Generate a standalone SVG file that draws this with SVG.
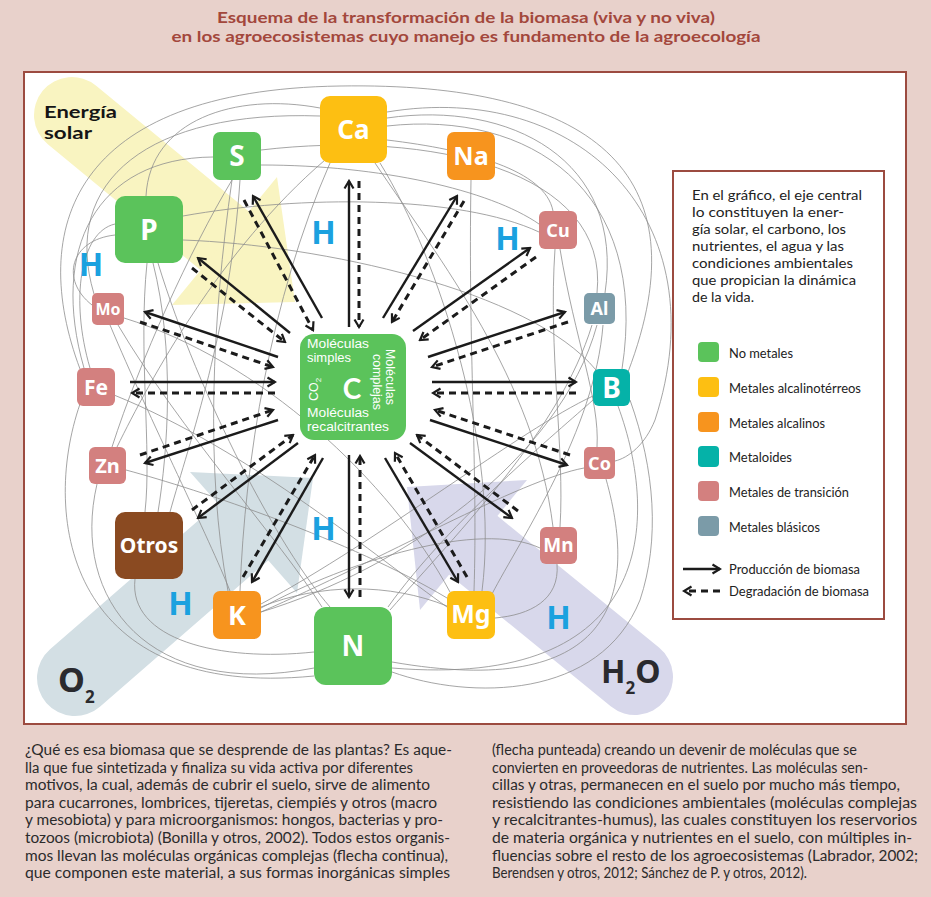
<svg xmlns="http://www.w3.org/2000/svg" width="931" height="897" viewBox="0 0 931 897">
<defs>
<style>
.t{font-family:Lato,"Noto Sans","DejaVu Sans",sans-serif}
.nl{font-family:"Noto Sans","DejaVu Sans",sans-serif;font-weight:700;fill:#fff;text-anchor:middle}
.cw{font-family:"Liberation Sans",Arial,sans-serif;fill:#fff;font-size:12.5px}
.w{fill:none;stroke:#8e8e8e;stroke-width:0.8}
.s{fill:none;stroke:#1b1b1b;stroke-width:2.4;marker-end:url(#ah)}
.d{fill:none;stroke:#1b1b1b;stroke-width:3;stroke-dasharray:7 5;marker-end:url(#ah)}
.h{font-family:"Noto Sans","DejaVu Sans",sans-serif;font-weight:700;font-size:32px;fill:#1ba1df;text-anchor:middle}
.g{fill:#5bc35b}.y{fill:#fdbf12}.o{fill:#f7941e}.tr{fill:#d3807f}.tl{fill:#05b2a8}.bl{fill:#7b9ba8}.br{fill:#8a4a21}
.body{font-family:Lato,"Noto Sans",sans-serif;font-size:14.5px;fill:#2b2b2b}
.leg{font-family:Lato,"Noto Sans",sans-serif;font-size:14px;fill:#222}
.li{font-family:Lato,"Noto Sans",sans-serif;font-size:13px;fill:#222}
.big{font-family:"Noto Sans","DejaVu Sans",sans-serif;font-weight:700;fill:#2a2a2e}
</style>
<marker id="ah" viewBox="0 0 12 12" refX="10" refY="6" markerWidth="12" markerHeight="12" markerUnits="userSpaceOnUse" orient="auto"><path d="M2.5,1.5 L10,6 L2.5,10.5" fill="none" stroke="#1b1b1b" stroke-width="2.2" stroke-dasharray="none"/></marker>
</defs>
<rect width="931" height="897" fill="#e8d1cb"/>
<g id="title" class="t" font-weight="700" font-size="15.8" fill="#a3473c" text-anchor="middle">
<text x="466" y="23" textLength="498" lengthAdjust="spacingAndGlyphs">Esquema de la transformación de la biomasa (viva y no viva)</text>
<text x="466" y="42" textLength="589" lengthAdjust="spacingAndGlyphs">en los agroecosistemas cuyo manejo es fundamento de la agroecología</text>
</g>
<rect id="frame" x="24" y="72" width="882" height="652" fill="#fff" stroke="#9c4b40" stroke-width="2"/>
<g id="energia-solar">
<line x1="72" y1="115" x2="225" y2="241" stroke="#f9f4c1" stroke-width="76" stroke-linecap="round"/>
<polygon points="277,177 172,305 295,302" fill="#f9f4c1"/>
<text x="44" y="118" font-family="Lato,'Noto Sans',sans-serif" font-size="17.4" font-weight="700" fill="#151515" textLength="73" lengthAdjust="spacingAndGlyphs">Energía</text>
<text x="44" y="139" font-family="Lato,'Noto Sans',sans-serif" font-size="17.4" font-weight="700" fill="#151515" textLength="48" lengthAdjust="spacingAndGlyphs">solar</text>
</g>
<g id="oxigeno">
<line x1="75" y1="678" x2="243" y2="532" stroke="#d3dfe4" stroke-width="76" stroke-linecap="round"/>
<polygon points="190,472 313,478 297,593" fill="#d3dfe4"/>
<text class="big" x="58" y="692" font-size="34">O<tspan font-size="17" dy="11">2</tspan></text>
</g>
<g id="agua">
<line x1="635" y1="677" x2="473" y2="545" stroke="#d8d8eb" stroke-width="76" stroke-linecap="round"/>
<polygon points="407,487 527,480 420,610" fill="#d8d8eb"/>
<text class="big" x="601" y="683" font-size="32">H<tspan font-size="17" dy="11">2</tspan><tspan font-size="32" dy="-11">O</tspan></text>
</g>
<g id="connectors">
<g id="web">
<path class="w" d="M80,369 C28,230 70,90 340,86 C590,82 705,170 628,372"/>
<path class="w" d="M84,368 C50,250 95,158 213,157"/>
<path class="w" d="M90,368 C70,300 80,232 115,224"/>
<path class="w" d="M320,108 C235,92 150,120 146,196"/>
<path class="w" d="M94,294 C60,180 150,110 320,116"/>
<path class="w" d="M261,165 C380,165 490,190 539,224"/>
<path class="w" d="M261,150 C430,130 610,170 597,293"/>
<path class="w" d="M183,216 C300,195 460,195 539,232"/>
<path class="w" d="M183,240 C320,245 530,290 596,370"/>
<path class="w" d="M387,118 C510,100 625,160 605,293"/>
<path class="w" d="M387,126 C530,110 650,190 622,369"/>
<path class="w" d="M387,140 C470,150 545,170 553,211"/>
<path class="w" d="M387,112 C580,80 720,220 655,420 C645,445 628,458 615,461"/>
<path class="w" d="M380,163 C440,260 500,450 482,591"/>
<path class="w" d="M330,163 C270,300 245,460 240,591"/>
<path class="w" d="M325,160 C220,250 150,380 117,447"/>
<path class="w" d="M375,163 C440,260 535,380 553,527"/>
<path class="w" d="M471,180 C468,350 478,470 474,591"/>
<path class="w" d="M555,249 C548,350 565,450 560,527"/>
<path class="w" d="M560,249 C575,340 600,400 597,447"/>
<path class="w" d="M592,325 C560,430 460,530 390,610"/>
<path class="w" d="M597,325 C560,460 400,570 261,612"/>
<path class="w" d="M603,325 C595,430 520,540 492,594"/>
<path class="w" d="M618,406 C660,520 655,690 392,668"/>
<path class="w" d="M606,479 C640,600 610,700 392,662"/>
<path class="w" d="M557,564 C560,600 530,615 495,618"/>
<path class="w" d="M261,608 C350,560 480,520 540,548"/>
<path class="w" d="M261,612 C380,560 520,480 584,468"/>
<path class="w" d="M261,604 C380,540 520,430 593,396"/>
<path class="w" d="M388,607 C450,520 560,430 593,400"/>
<path class="w" d="M147,263 C138,350 152,450 145,512"/>
<path class="w" d="M153,263 C175,350 168,450 158,512"/>
<path class="w" d="M158,263 C200,400 280,550 330,607"/>
<path class="w" d="M118,325 C180,430 280,540 322,607"/>
<path class="w" d="M110,325 C150,420 210,540 230,591"/>
<path class="w" d="M97,484 C70,600 150,700 314,668"/>
<path class="w" d="M112,447 C140,360 190,250 232,180"/>
<path class="w" d="M80,404 C40,520 70,700 314,676"/>
<path class="w" d="M135,579 C128,640 220,662 314,652"/>
<path class="w" d="M114,395 C250,450 380,560 447,607"/>
<path class="w" d="M124,318 C260,360 390,480 450,592"/>
<path class="w" d="M261,607 C320,583 390,583 447,606"/>
<path class="w" d="M232,180 C212,320 205,470 228,591"/>
<path class="w" d="M240,180 C230,330 190,440 170,512"/>
<path class="w" d="M447,598 C350,540 200,490 126,470"/>
<path class="w" d="M92,305 C60,280 70,240 115,235"/>
<path class="w" d="M392,672 C470,700 600,700 640,600 C660,540 655,470 630,400"/>
</g>
<g id="arrows">
<path class="s" d="M349,327 L349,181"/><path class="d" d="M359,181 L359,327"/>
<path class="s" d="M383,318 L457,196"/><path class="d" d="M464,201 L392,322"/>
<path class="s" d="M413,331 L530,248"/><path class="d" d="M536,257 L420,340"/>
<path class="s" d="M428,357 L565,312"/><path class="d" d="M568,322 L432,367"/>
<path class="s" d="M432,382 L576,382"/><path class="d" d="M576,393 L433,393"/>
<path class="s" d="M430,420 L567,465"/><path class="d" d="M570,455 L435,410"/>
<path class="s" d="M410,443 L512,518"/><path class="d" d="M518,511 L417,435"/>
<path class="s" d="M385,458 L458,582"/><path class="d" d="M467,577 L395,453"/>
<path class="s" d="M349,455 L349,597"/><path class="d" d="M360,597 L360,456"/>
<path class="s" d="M323,458 L252,582"/><path class="d" d="M243,577 L315,455"/>
<path class="s" d="M298,443 L198,518"/><path class="d" d="M192,510 L293,435"/>
<path class="s" d="M278,420 L145,463"/><path class="d" d="M140,455 L273,410"/>
<path class="s" d="M130,382 L275,382"/><path class="d" d="M275,393 L132,393"/>
<path class="s" d="M278,357 L145,312"/><path class="d" d="M140,322 L273,367"/>
<path class="s" d="M290,333 L198,258"/><path class="d" d="M192,268 L285,342"/>
<path class="s" d="M322,318 L253,196"/><path class="d" d="M244,200 L313,330"/>
</g>
</g>
<g id="node-Ca"><rect class="y" x="320" y="96" width="67" height="67" rx="10"/><text class="nl" x="353.5" y="139" font-size="26">Ca</text></g>
<g id="node-S"><rect class="g" x="213" y="132" width="48" height="48" rx="7"/><text class="nl" x="237" y="166" font-size="28">S</text></g>
<g id="node-P"><rect class="g" x="115" y="196" width="68" height="67" rx="10"/><text class="nl" x="149" y="239.5" font-size="28">P</text></g>
<g id="node-Na"><rect class="o" x="447" y="132" width="48" height="48" rx="7"/><text class="nl" x="471" y="165" font-size="25">Na</text></g>
<g id="node-Cu"><rect class="tr" x="539" y="211" width="38" height="38" rx="6"/><text class="nl" x="558" y="236.5" font-size="18">Cu</text></g>
<g id="node-Mo"><rect class="tr" x="92" y="293" width="32" height="32" rx="5"/><text class="nl" x="108" y="315" font-size="16">Mo</text></g>
<g id="node-Al"><rect class="bl" x="584" y="293" width="31" height="31" rx="5"/><text class="nl" x="599.5" y="315" font-size="18">Al</text></g>
<g id="node-Fe"><rect class="tr" x="77" y="368" width="38" height="38" rx="6"/><text class="nl" x="96" y="394.5" font-size="21">Fe</text></g>
<g id="node-B"><rect class="tl" x="593" y="369" width="37" height="37" rx="6"/><text class="nl" x="611.5" y="397.5" font-size="28">B</text></g>
<g id="node-Zn"><rect class="tr" x="89" y="447" width="37" height="37" rx="6"/><text class="nl" x="107.5" y="472.6" font-size="20">Zn</text></g>
<g id="node-Co"><rect class="tr" x="584" y="447" width="31" height="32" rx="5"/><text class="nl" x="599.5" y="469.5" font-size="18">Co</text></g>
<g id="node-Otros"><rect class="br" x="115" y="512" width="68" height="67" rx="10"/><text class="nl" x="149" y="553" font-size="21">Otros</text></g>
<g id="node-Mn"><rect class="tr" x="540" y="527" width="37" height="37" rx="6"/><text class="nl" x="558.5" y="552.3" font-size="19">Mn</text></g>
<g id="node-K"><rect class="o" x="213" y="591" width="48" height="48" rx="7"/><text class="nl" x="237" y="624.6" font-size="27">K</text></g>
<g id="node-Mg"><rect class="y" x="447" y="591" width="48" height="48" rx="7"/><text class="nl" x="471" y="623" font-size="25">Mg</text></g>
<g id="node-N"><rect class="g" x="314" y="607" width="78" height="78" rx="12"/><text class="nl" x="353" y="656" font-size="28">N</text></g>
<g id="node-C">
<rect class="g" x="300" y="334" width="106" height="106" rx="14"/>
<text class="cw" x="307" y="348" textLength="62" lengthAdjust="spacingAndGlyphs">Moléculas</text>
<text class="cw" x="307" y="362" textLength="44" lengthAdjust="spacingAndGlyphs">simples</text>
<text class="cw" x="307" y="417" textLength="62" lengthAdjust="spacingAndGlyphs">Moléculas</text>
<text class="cw" x="307" y="431" textLength="82" lengthAdjust="spacingAndGlyphs">recalcitrantes</text>
<text x="352" y="399" font-family="Lato,'Noto Sans',sans-serif" font-weight="700" font-size="28" fill="#fff" text-anchor="middle">C</text>
<text class="cw" font-size="12" transform="translate(318,401) rotate(-90)">CO<tspan font-size="8" dy="3">2</tspan></text>
<text class="cw" font-size="12" transform="translate(386,349) rotate(90)" textLength="56" lengthAdjust="spacingAndGlyphs">Moléculas</text>
<text class="cw" font-size="12" transform="translate(372.5,354) rotate(90)" textLength="56" lengthAdjust="spacingAndGlyphs">complejas</text>
</g>
<g id="hydrogen">
<text class="h" x="323.5" y="244">H</text>
<text class="h" x="91" y="276">H</text>
<text class="h" x="507.5" y="250">H</text>
<text class="h" x="323.5" y="540">H</text>
<text class="h" x="180.5" y="615">H</text>
<text class="h" x="558.5" y="629">H</text>
</g>
<g id="legend">
<rect x="673" y="171" width="211" height="448" fill="#fff" stroke="#9c4b40" stroke-width="2"/>
<text class="leg" x="692" y="200" textLength="170" lengthAdjust="spacingAndGlyphs">En el gráfico, el eje central</text>
<text class="leg" x="692" y="217" textLength="152" lengthAdjust="spacingAndGlyphs">lo constituyen la ener-</text>
<text class="leg" x="692" y="234" textLength="154" lengthAdjust="spacingAndGlyphs">gía solar, el carbono, los</text>
<text class="leg" x="692" y="251" textLength="152" lengthAdjust="spacingAndGlyphs">nutrientes, el agua y las</text>
<text class="leg" x="692" y="268" textLength="161" lengthAdjust="spacingAndGlyphs">condiciones ambientales</text>
<text class="leg" x="692" y="285" textLength="164" lengthAdjust="spacingAndGlyphs">que propician la dinámica</text>
<text class="leg" x="692" y="302" textLength="62" lengthAdjust="spacingAndGlyphs">de la vida.</text>
<rect class="g" x="698" y="342" width="21" height="20" rx="4"/>
<text class="li" x="729" y="358" textLength="64" lengthAdjust="spacingAndGlyphs">No metales</text>
<rect class="y" x="698" y="377" width="21" height="20" rx="4"/>
<text class="li" x="729" y="393" textLength="132" lengthAdjust="spacingAndGlyphs">Metales alcalinotérreos</text>
<rect class="o" x="698" y="412" width="21" height="20" rx="4"/>
<text class="li" x="729" y="428" textLength="96" lengthAdjust="spacingAndGlyphs">Metales alcalinos</text>
<rect class="tl" x="698" y="446" width="21" height="21" rx="4"/>
<text class="li" x="729" y="462" textLength="63" lengthAdjust="spacingAndGlyphs">Metaloides</text>
<rect class="tr" x="698" y="481" width="21" height="20" rx="4"/>
<text class="li" x="729" y="497" textLength="120" lengthAdjust="spacingAndGlyphs">Metales de transición</text>
<rect class="bl" x="698" y="516" width="21" height="20" rx="4"/>
<text class="li" x="729" y="532" textLength="91" lengthAdjust="spacingAndGlyphs">Metales blásicos</text>
<path class="s" d="M683,569 L720,569"/>
<text class="li" x="729" y="574" textLength="131" lengthAdjust="spacingAndGlyphs">Producción de biomasa</text>
<path class="d" d="M720,591 L684,591"/>
<text class="li" x="729" y="596" textLength="140" lengthAdjust="spacingAndGlyphs">Degradación de biomasa</text>
</g>
<g id="text-left" class="body">
<text x="25" y="755" textLength="427" lengthAdjust="spacingAndGlyphs">¿Qué es esa biomasa que se desprende de las plantas? Es aque-</text>
<text x="25" y="772.6" textLength="388" lengthAdjust="spacingAndGlyphs">lla que fue sintetizada y finaliza su vida activa por diferentes</text>
<text x="25" y="790.2" textLength="405" lengthAdjust="spacingAndGlyphs">motivos, la cual, además de cubrir el suelo, sirve de alimento</text>
<text x="25" y="807.8" textLength="412" lengthAdjust="spacingAndGlyphs">para cucarrones, lombrices, tijeretas, ciempiés y otros (macro</text>
<text x="25" y="825.4" textLength="418" lengthAdjust="spacingAndGlyphs">y mesobiota) y para microorganismos: hongos, bacterias y pro-</text>
<text x="25" y="843" textLength="425" lengthAdjust="spacingAndGlyphs">tozoos (microbiota) (Bonilla y otros, 2002). Todos estos organis-</text>
<text x="25" y="860.6" textLength="423" lengthAdjust="spacingAndGlyphs">mos llevan las moléculas orgánicas complejas (flecha continua),</text>
<text x="25" y="878.2" textLength="425" lengthAdjust="spacingAndGlyphs">que componen este material, a sus formas inorgánicas simples</text>
</g>
<g id="text-right" class="body">
<text x="492" y="755" textLength="365" lengthAdjust="spacingAndGlyphs">(flecha punteada) creando un devenir de moléculas que se</text>
<text x="492" y="772.6" textLength="376" lengthAdjust="spacingAndGlyphs">convierten en proveedoras de nutrientes. Las moléculas sen-</text>
<text x="492" y="790.2" textLength="408" lengthAdjust="spacingAndGlyphs">cillas y otras, permanecen en el suelo por mucho más tiempo,</text>
<text x="492" y="807.8" textLength="425" lengthAdjust="spacingAndGlyphs">resistiendo las condiciones ambientales (moléculas complejas</text>
<text x="492" y="825.4" textLength="425" lengthAdjust="spacingAndGlyphs">y recalcitrantes-humus), las cuales constituyen los reservorios</text>
<text x="492" y="843" textLength="420" lengthAdjust="spacingAndGlyphs">de materia orgánica y nutrientes en el suelo, con múltiples in-</text>
<text x="492" y="860.6" textLength="426" lengthAdjust="spacingAndGlyphs">fluencias sobre el resto de los agroecosistemas (Labrador, 2002;</text>
<text x="492" y="878.2" textLength="315" lengthAdjust="spacingAndGlyphs">Berendsen y otros, 2012; Sánchez de P. y otros, 2012).</text>
</g>
</svg>
